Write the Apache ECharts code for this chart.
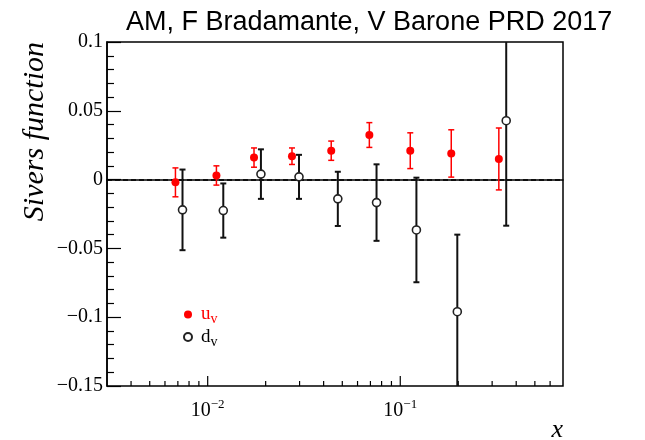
<!DOCTYPE html>
<html>
<head>
<meta charset="utf-8">
<script src="https://cdn.jsdelivr.net/npm/echarts@6/dist/echarts.min.js"></script>
<style>
  html, body { margin: 0; padding: 0; background: #fff; }
  #chart { width: 645px; height: 440px; }
</style>
</head>
<body>
<div id="chart"></div>
<script>
// u_v points: Bjorken x, Sivers function value, error
const xU = [0.0068, 0.0111, 0.0174, 0.0274, 0.0438, 0.0691, 0.1127, 0.184, 0.325];
const yU = [-0.002, 0.003, 0.016, 0.017, 0.021, 0.0324, 0.021, 0.019, 0.015];
const eU = [0.0105, 0.007, 0.007, 0.006, 0.007, 0.009, 0.013, 0.0172, 0.0225];

// d_v points
const xD = [0.0074, 0.01205, 0.0189, 0.0298, 0.0474, 0.0753, 0.1213, 0.1978, 0.355];
const yD = [-0.022, -0.0225, 0.004, 0.002, -0.014, -0.0167, -0.0366, -0.096, 0.0428];
const eD = [0.0293, 0.0197, 0.018, 0.016, 0.0197, 0.0278, 0.038, 0.056, 0.0763];

// axis ranges and log-axis tick positions
const X_MIN = 0.003, X_MAX = 0.7;
const Y_MIN = -0.15, Y_MAX = 0.1, Y_STEP = 0.05;
const xTickValues = [0.004, 0.005, 0.006, 0.007, 0.008, 0.009, 0.01,
                     0.02, 0.03, 0.04, 0.05, 0.06, 0.07, 0.08, 0.09, 0.1,
                     0.2, 0.3, 0.4, 0.5, 0.6];
const xMajorTicks = [0.01, 0.1];

const RED = '#ff0000';
const BLACK = '#111111';
const SERIF = '"Liberation Serif", "Times New Roman", serif';

const chart = echarts.init(document.getElementById('chart'), null, { renderer: 'canvas' });

function toPoints(xs, ys) { return xs.map((x, i) => [x, ys[i]]); }
function toBars(xs, ys, es) { return xs.map((x, i) => [x, ys[i] - es[i], ys[i] + es[i]]); }

// vertical error bar with caps; ends beyond the frame are cut without a cap
function errorBarRenderer(color, width) {
  return function (params, api) {
    const x = api.value(0);
    const lo = api.value(1), hi = api.value(2);
    const loC = Math.max(lo, Y_MIN), hiC = Math.min(hi, Y_MAX);
    const pLo = api.coord([x, loC]);
    const pHi = api.coord([x, hiC]);
    const style = { stroke: color, lineWidth: width };
    const children = [{
      type: 'line', shape: { x1: pLo[0], y1: pLo[1], x2: pHi[0], y2: pHi[1] }, style
    }];
    const cap = 3;
    if (lo >= Y_MIN) children.push({ type: 'line',
      shape: { x1: pLo[0] - cap, y1: pLo[1], x2: pLo[0] + cap, y2: pLo[1] }, style });
    if (hi <= Y_MAX) children.push({ type: 'line',
      shape: { x1: pHi[0] - cap, y1: pHi[1], x2: pHi[0] + cap, y2: pHi[1] }, style });
    return { type: 'group', children };
  };
}

function fmtY(v) {
  const a = parseFloat(Math.abs(v).toFixed(4));
  if (a === 0) return '0';
  return (v < 0 ? '\u2212' : '') + a;
}

function fmtX(v) {
  const l = Math.log10(v);
  const e = Math.round(l);
  if (Math.abs(l - e) > 1e-6) return '';
  return '{b|10}{s|\u2212' + (-e) + '}';
}

const option = {
  backgroundColor: '#fff',
  animation: false,
  title: {
    text: 'AM, F Bradamante, V Barone PRD 2017',
    left: 121, top: 4,
    textStyle: { fontFamily: '"Liberation Sans", Arial, sans-serif', fontSize: 27,
                 fontWeight: 'normal', color: '#000' }
  },
  grid: {
    left: 107, right: 82, top: 42, bottom: 54,
    show: true, borderColor: '#000', borderWidth: 1.5, backgroundColor: 'transparent'
  },
  xAxis: {
    type: 'log', logBase: 10, min: X_MIN, max: X_MAX,
    axisLine: { show: true, lineStyle: { color: '#000', width: 1.5 } },
    axisTick: { show: false },
    splitLine: { show: false },
    axisLabel: {
      margin: 12, formatter: fmtX, showMinLabel: true, showMaxLabel: true,
      rich: {
        b: { fontFamily: SERIF, fontSize: 20, color: '#000', lineHeight: 26 },
        s: { fontFamily: SERIF, fontSize: 13, color: '#000', lineHeight: 10, verticalAlign: 'top' }
      }
    }
  },
  yAxis: {
    type: 'value', min: Y_MIN, max: Y_MAX, interval: Y_STEP,
    axisLine: { show: true, lineStyle: { color: '#000', width: 1.5 } },
    axisTick: { show: true, inside: true, length: 14, lineStyle: { color: '#000', width: 1.2 } },
    minorTick: { show: true, splitNumber: 5, length: 7, lineStyle: { color: '#000', width: 1.2 } },
    splitLine: { show: false },
    axisLabel: { margin: 4, formatter: fmtY, fontFamily: SERIF, fontSize: 20, color: '#000' }
  },
  legend: {
    orient: 'vertical', left: 183, top: 305, padding: 0,
    itemWidth: 8, itemHeight: 8, itemGap: 1,
    data: [
      { name: 'uv', textStyle: { color: RED } },
      { name: 'dv', textStyle: { color: '#000' } }
    ],
    formatter: n => '{b|' + n[0] + '}{s|v}',
    textStyle: {
      padding: [0, 0, 0, 4],
      rich: {
        b: { fontFamily: SERIF, fontSize: 19, lineHeight: 24 },
        s: { fontFamily: SERIF, fontSize: 14, lineHeight: 12, verticalAlign: 'bottom' }
      }
    }
  },
  graphic: [
    { type: 'text', x: 35, y: 42, rotation: Math.PI / 2,
      style: { text: 'Sivers function', font: 'italic 30px ' + SERIF, fill: '#000',
               align: 'right', verticalAlign: 'middle' } },
    { type: 'text', x: 563, y: 430,
      style: { text: 'x', font: 'italic 26px ' + SERIF, fill: '#000',
               align: 'right', verticalAlign: 'middle' } }
  ],
  series: [
    {
      // x-axis ticks at every decade subdivision, drawn inward from the bottom frame
      type: 'custom', name: 'xticks', silent: true, z: 1,
      data: xTickValues.map(v => [v, Y_MIN]),
      renderItem: function (params, api) {
        const v = api.value(0);
        const p = api.coord([v, Y_MIN]);
        const len = xMajorTicks.indexOf(v) >= 0 ? 10 : 5;
        return { type: 'line', shape: { x1: p[0], y1: p[1], x2: p[0], y2: p[1] - len },
                 style: { stroke: '#000', lineWidth: 1.2 } };
      },
      markLine: {
        silent: true, symbol: 'none', z: 1,
        label: { show: false },
        lineStyle: { color: '#000', width: 1.5, type: [5, 3] },
        data: [{ yAxis: 0 }]
      }
    },
    {
      type: 'custom', name: 'uv_err', silent: true, z: 3,
      data: toBars(xU, yU, eU),
      encode: { x: 0, y: [1, 2] },
      renderItem: errorBarRenderer(RED, 1.5)
    },
    {
      type: 'custom', name: 'dv_err', silent: true, z: 3,
      data: toBars(xD, yD, eD),
      encode: { x: 0, y: [1, 2] },
      renderItem: errorBarRenderer(BLACK, 2)
    },
    {
      type: 'scatter', name: 'uv', z: 5,
      symbol: 'circle', symbolSize: 8,
      itemStyle: { color: RED, opacity: 1 },
      data: toPoints(xU, yU)
    },
    {
      type: 'scatter', name: 'dv', z: 5,
      symbol: 'circle', symbolSize: 8,
      itemStyle: { color: '#fff', borderColor: '#222', borderWidth: 1.6, opacity: 1 },
      data: toPoints(xD, yD)
    }
  ]
};

chart.setOption(option);
</script>
</body>
</html>
